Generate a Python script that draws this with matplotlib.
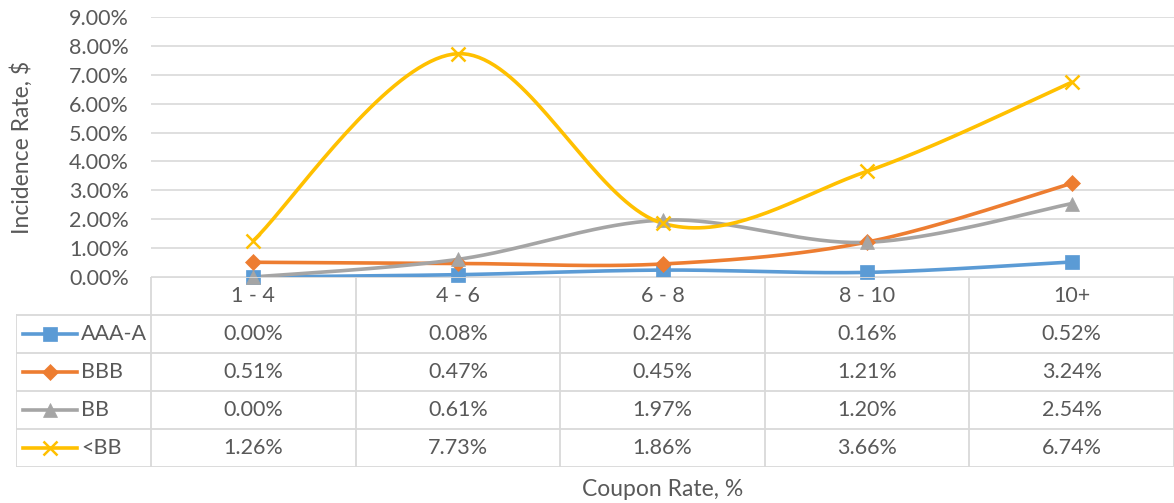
import matplotlib
matplotlib.use("Agg")

import matplotlib.pyplot as plt
import numpy as np
from matplotlib.lines import Line2D

plt.rcParams["font.family"] = ["Lato", "DejaVu Sans"]

categories = ["1 - 4", "4 - 6", "6 - 8", "8 - 10", "10+"]
series_names = ["AAA-A", "BBB", "BB", "<BB"]
aaa_a = [0.00, 0.08, 0.24, 0.16, 0.52]
bbb = [0.51, 0.47, 0.45, 1.21, 3.24]
bb = [0.00, 0.61, 1.97, 1.20, 2.54]
below_bb = [1.26, 7.73, 1.86, 3.66, 6.74]

colors = ["#5B9BD5", "#ED7D31", "#A5A5A5", "#FFC000"]
markers = ["s", "D", "^", "x"]
msizes = [10, 8, 10, 10]
TXT = "#595959"
GRID = "#D9D9D9"
FS = 15.5
FS_TITLE = 16.5


def smooth(x, y, n=40):
    # Excel-style smoothed line (cubic Bezier through points, Catmull-Rom handles)
    pts = np.column_stack([x, y]).astype(float)
    out = []
    for i in range(len(pts) - 1):
        p0 = pts[max(i - 1, 0)]
        p1 = pts[i]
        p2 = pts[i + 1]
        p3 = pts[min(i + 2, len(pts) - 1)]
        c1 = p1 + (p2 - p0) / 6
        c2 = p2 - (p3 - p1) / 6
        t = np.linspace(0, 1, n)[:, None]
        seg = (1 - t) ** 3 * p1 + 3 * (1 - t) ** 2 * t * c1 + 3 * (1 - t) * t ** 2 * c2 + t ** 3 * p2
        out.append(seg if i == 0 else seg[1:])
    out = np.vstack(out)
    return out[:, 0], out[:, 1]


W, H = 1174, 503
fig = plt.figure(figsize=(W / 100, H / 100), dpi=100)

left, right, top, axis_y, table_bottom, table_left = 151, 1174, 17, 277, 467, 16
ax = fig.add_axes([left / W, 1 - axis_y / H, (right - left) / W, (axis_y - top) / H])

x = np.arange(len(categories))
data = [aaa_a, bbb, bb, below_bb]
for vals, c, m, ms in zip(data, colors, markers, msizes):
    v = np.array(vals) / 100
    sx, sy = smooth(x, v)
    ax.plot(sx, sy, color=c, linewidth=2.6, solid_capstyle="round", zorder=3)
    ax.plot(x, v, linestyle="none", marker=m, markersize=ms, color=c,
            markeredgewidth=1.8 if m == "x" else 0.5, zorder=4, clip_on=False)

ax.set_xlim(-0.5, len(categories) - 0.5)
ax.set_ylim(0, 0.09)
ax.set_yticks(np.arange(0, 0.091, 0.01))
ax.set_yticklabels([f"{t * 100:.2f}%" for t in np.arange(0, 0.091, 0.01)])
ax.set_xticks([])
ax.grid(axis="y", color=GRID, linewidth=1.2)
ax.set_axisbelow(True)
for s in ["top", "right", "left", "bottom"]:
    ax.spines[s].set_visible(False)
ax.tick_params(axis="y", length=0, labelsize=FS, labelcolor=TXT, pad=16)
fig.text(22 / W, 1 - 147 / H, "Incidence Rate, $", rotation=90, ha="center", va="center",
         fontsize=FS_TITLE, color=TXT)

# data table below the plot
cat_w = (right - left) / len(categories)
tx0 = -0.5 - (left - table_left) / cat_w
tab = fig.add_axes([table_left / W, 1 - table_bottom / H, (right - table_left) / W,
                    (table_bottom - axis_y) / H])
nrows = len(series_names) + 1
tab.set_xlim(tx0, len(categories) - 0.5)
tab.set_ylim(nrows, 0)
tab.axis("off")

lw = 1.3
tab.plot([-0.5, len(categories) - 0.5], [0, 0], color=GRID, lw=lw)
for i in range(len(categories) + 1):
    tab.plot([i - 0.5, i - 0.5], [0, nrows], color=GRID, lw=lw)
for r in range(1, nrows + 1):
    tab.plot([tx0, len(categories) - 0.5], [r, r], color=GRID, lw=lw)
tab.plot([tx0, tx0], [1, nrows], color=GRID, lw=lw)

for i, cat in enumerate(categories):
    tab.text(i, 0.5, cat, ha="center", va="center", fontsize=FS, color=TXT)

for r, (name, vals, c, m, ms) in enumerate(zip(series_names, data, colors, markers, msizes), start=1):
    yrow = r + 0.5
    lx0 = tx0 + 7 / cat_w
    lx1 = tx0 + 61 / cat_w
    tab.add_line(Line2D([lx0, lx1], [yrow, yrow], color=c, linewidth=2.6))
    tab.plot([(lx0 + lx1) / 2], [yrow], marker=m, markersize=ms, color=c,
             markeredgewidth=1.8 if m == "x" else 0.5, linestyle="none")
    tab.text(tx0 + 65 / cat_w, yrow, name, ha="left", va="center", fontsize=FS, color=TXT)
    for i, v in enumerate(vals):
        tab.text(i, yrow, f"{v:.2f}%", ha="center", va="center", fontsize=FS, color=TXT)

fig.text((left + right) / 2 / W, 1 - 490 / H, "Coupon Rate, %", ha="center", va="center",
         fontsize=FS_TITLE, color=TXT)

fig.savefig("out.png", dpi=100)
